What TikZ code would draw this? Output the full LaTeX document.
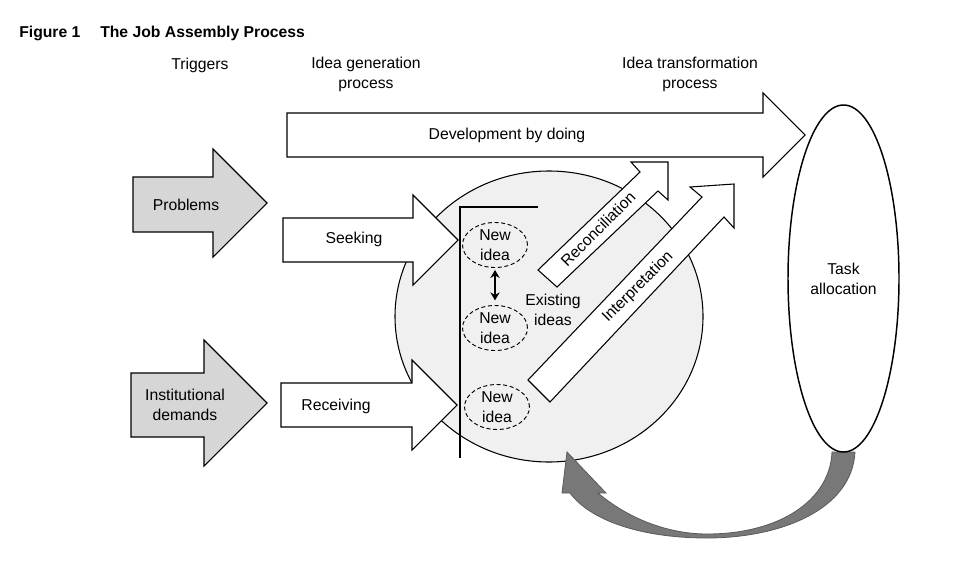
\documentclass[tikz,border=0pt]{standalone}
\usepackage{fontspec}
\setmainfont{Liberation Sans}
\usetikzlibrary{shapes.geometric,arrows.meta}
\definecolor{trig}{RGB}{214,214,214}
\definecolor{bub}{RGB}{240,240,240}
\definecolor{loopfill}{RGB}{120,120,120}
\definecolor{loopline}{RGB}{90,90,90}
\begin{document}
\begin{tikzpicture}[x=0.75pt,y=-0.75pt,
  font=\fontsize{11.8}{15}\selectfont,
  blockarrow/.style={draw=black,line width=0.8pt,fill=white,line join=miter},
  trigarrow/.style={blockarrow,fill=trig},
  lbl/.style={inner sep=0pt,align=center},
  idea/.style={ellipse,draw,dash pattern=on 3pt off 2pt,line width=0.7pt,
    minimum width=48.75pt,minimum height=33.75pt,inner sep=0pt,align=center}]
\useasboundingbox (0,0) rectangle (960,564);

% title
\node[anchor=base west,inner sep=0pt,font=\fontsize{11.8}{15}\selectfont\bfseries] (fig) at (19,37) {Figure 1};
\node[anchor=base west,inner sep=0pt,font=\fontsize{11.8}{15}\selectfont\bfseries] (title) at (100,37) {The Job Assembly Process};

% column heads
\node[lbl] (trighead) at (200,65) {Triggers};
\node[lbl] (genhead) at (366,74) {Idea generation\\process};
\node[lbl] (transhead) at (690,74) {Idea transformation\\process};

% development by doing
\draw[blockarrow] (287,113) -- (763,113) -- (763,93) -- (805,135) -- (763,177) -- (763,157) -- (287,157) -- cycle;
\node[lbl] (dev) at (507,135) {Development by doing};

% triggers
\draw[trigarrow] (133,177) -- (213,177) -- (213,149) -- (267,203) -- (213,257) -- (213,232) -- (133,232) -- cycle;
\node[lbl] (prob) at (186,205) {Problems};
\draw[trigarrow] (131,373) -- (204,373) -- (204,340) -- (267,403) -- (204,466) -- (204,437) -- (131,437) -- cycle;
\node[lbl] (inst) at (185,405) {Institutional\\demands};

% pool of ideas
\node[ellipse,draw,line width=0.8pt,fill=bub,minimum width=231pt,minimum height=218.25pt,inner sep=0pt] (pool) at (549,316.5) {};

% seeking / receiving
\draw[blockarrow] (283,218) -- (413,218) -- (413,195) -- (458,240) -- (413,285) -- (413,262) -- (283,262) -- cycle;
\node[lbl] (seek) at (354,239) {Seeking};
\draw[blockarrow] (281,383) -- (412,383) -- (412,360) -- (457,405) -- (412,450) -- (412,427) -- (281,427) -- cycle;
\node[lbl] (recv) at (336,406) {Receiving};

% transformation arrows
\draw[blockarrow] (538,270) -- (640,172) -- (631,162) -- (668,162) -- (668,200) -- (658,191) -- (557,287) -- cycle;
\node[lbl,rotate=45] (recon) at (598,229) {Reconciliation};
\draw[blockarrow] (528,380) -- (702,197) -- (690,187) -- (734,184) -- (734,228) -- (724,217) -- (550,402) -- cycle;
\node[lbl,rotate=45] (interp) at (638,287) {Interpretation};

% boundary line
\draw[line width=0.8pt] (460,458) -- (460,207) -- (538,207);

% ideas
\node[idea] (n1) at (495,245) {New\\idea};
\node[idea] (n2) at (495,328) {New\\idea};
\node[idea] (n3) at (497,407) {New\\idea};
\draw[line width=1.3pt,{Stealth[length=6pt,width=7pt]}-{Stealth[length=6pt,width=7pt]},shorten <=1.5pt,shorten >=3.5pt] (n1.south) -- (n2.north);
\node[lbl] (exist) at (553,310) {Existing\\ideas};

% feedback loop
\draw[fill=loopfill,draw=loopline,line width=0.6pt,line join=miter]
  (855,452) .. controls (852,510) and (780,538) .. (707,538)
  .. controls (640,538) and (590,520) .. (570,493)
  -- (562,493) -- (567,452) -- (606,493) -- (598,493)
  .. controls (630,520) and (670,534) .. (707,534)
  .. controls (780,534) and (830,500) .. (832,452) -- cycle;

% task allocation
\node[ellipse,draw,line width=1.1pt,fill=white,minimum width=83.25pt,minimum height=260.25pt,inner sep=0pt,align=center] (task) at (843.5,278.5) {Task\\allocation};
\end{tikzpicture}
\end{document}
